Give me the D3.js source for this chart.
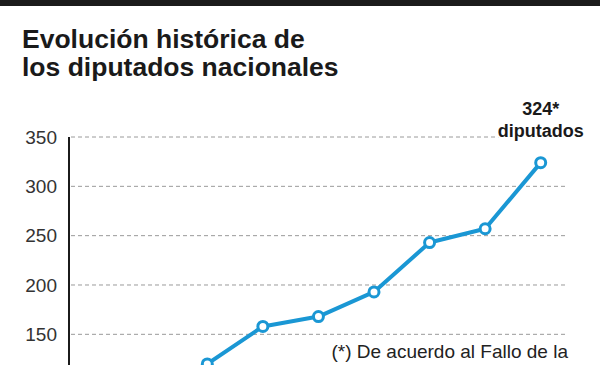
<!DOCTYPE html>
<html>
<head>
<meta charset="utf-8">
<script src="https://cdn.jsdelivr.net/npm/d3@7"></script>
<style>
  html, body { margin: 0; padding: 0; background: #fff; }
  svg { display: block; }
</style>
</head>
<body>
<div id="chart"></div>
<script>
// Periods (the x axis sits below the visible crop) and number of deputies
const periods = ['P1', 'P2', 'P3', 'P4', 'P5', 'P6', 'P7'];
const deputies = [120, 158, 168, 193, 243, 257, 324];
const yTicks = [150, 200, 250, 300, 350];
const titleLines = ['Evolución histórica de', 'los diputados nacionales'];
const lastLabel = ['324*', 'diputados'];
const footnote = '(*) De acuerdo al Fallo de la';

const width = 600;
const height = 365;
const blue = '#1a97d4';

const svg = d3.select('#chart')
    .append('svg')
    .attr('width', width)
    .attr('height', height);

// Black bar along the top
svg.append('rect')
    .attr('x', 0).attr('y', 0)
    .attr('width', width).attr('height', 6)
    .attr('fill', '#1b1b1b');

// Title
svg.append('g')
    .selectAll('text')
    .data(titleLines)
    .enter()
    .append('text')
    .attr('x', 22)
    .attr('y', (d, i) => 47.5 + i * 28.5)
    .attr('font-family', 'Liberation Sans, Arial, sans-serif')
    .attr('font-weight', 'bold')
    .attr('font-size', 26.5)
    .attr('fill', '#1a1a1a')
    .text(d => d);

// Scales
const x = d3.scalePoint()
    .domain(periods)
    .range([207.3, 540.7]);

const y = d3.scaleLinear()
    .domain([0, 350])
    .range([482.3, 137]);

// Grid lines
svg.append('g')
    .selectAll('line')
    .data(yTicks)
    .enter()
    .append('line')
    .attr('x1', 71)
    .attr('x2', 568)
    .attr('y1', d => y(d))
    .attr('y2', d => y(d))
    .attr('stroke', '#9a9a9a')
    .attr('stroke-width', 1)
    .attr('stroke-dasharray', '4,3');

// Y axis
const yAxis = d3.axisLeft(y)
    .tickValues(yTicks)
    .tickSize(0)
    .tickPadding(12);

const yAxisG = svg.append('g')
    .attr('transform', 'translate(69,0)')
    .call(yAxis);

yAxisG.select('.domain').remove();
yAxisG.selectAll('text')
    .attr('font-family', 'Liberation Sans, Arial, sans-serif')
    .attr('font-size', 19)
    .attr('fill', '#333');

svg.append('line')
    .attr('x1', 69).attr('x2', 69)
    .attr('y1', y(350)).attr('y2', height)
    .attr('stroke', '#1b1b1b')
    .attr('stroke-width', 2);

// Line
const line = d3.line()
    .x((d, i) => x(periods[i]))
    .y(d => y(d));

svg.append('path')
    .datum(deputies)
    .attr('fill', 'none')
    .attr('stroke', blue)
    .attr('stroke-width', 4)
    .attr('stroke-linejoin', 'round')
    .attr('d', line);

svg.append('g')
    .selectAll('circle')
    .data(deputies)
    .enter()
    .append('circle')
    .attr('cx', (d, i) => x(periods[i]))
    .attr('cy', d => y(d))
    .attr('r', 5)
    .attr('fill', '#fff')
    .attr('stroke', blue)
    .attr('stroke-width', 3);

// Label over the last point
const lastIdx = deputies.length - 1;
svg.append('g')
    .selectAll('text')
    .data(lastLabel)
    .enter()
    .append('text')
    .attr('x', x(periods[lastIdx]))
    .attr('y', (d, i) => y(deputies[lastIdx]) - 48 + i * 22)
    .attr('text-anchor', 'middle')
    .attr('font-family', 'Liberation Sans, Arial, sans-serif')
    .attr('font-weight', 'bold')
    .attr('font-size', 18)
    .attr('fill', '#1a1a1a')
    .attr('stroke', '#fff')
    .attr('stroke-width', 4)
    .attr('paint-order', 'stroke')
    .text(d => d);

// Footnote
svg.append('text')
    .attr('x', 568)
    .attr('y', 358)
    .attr('text-anchor', 'end')
    .attr('font-family', 'Liberation Sans, Arial, sans-serif')
    .attr('font-size', 19)
    .attr('fill', '#222')
    .text(footnote);
</script>
</body>
</html>
